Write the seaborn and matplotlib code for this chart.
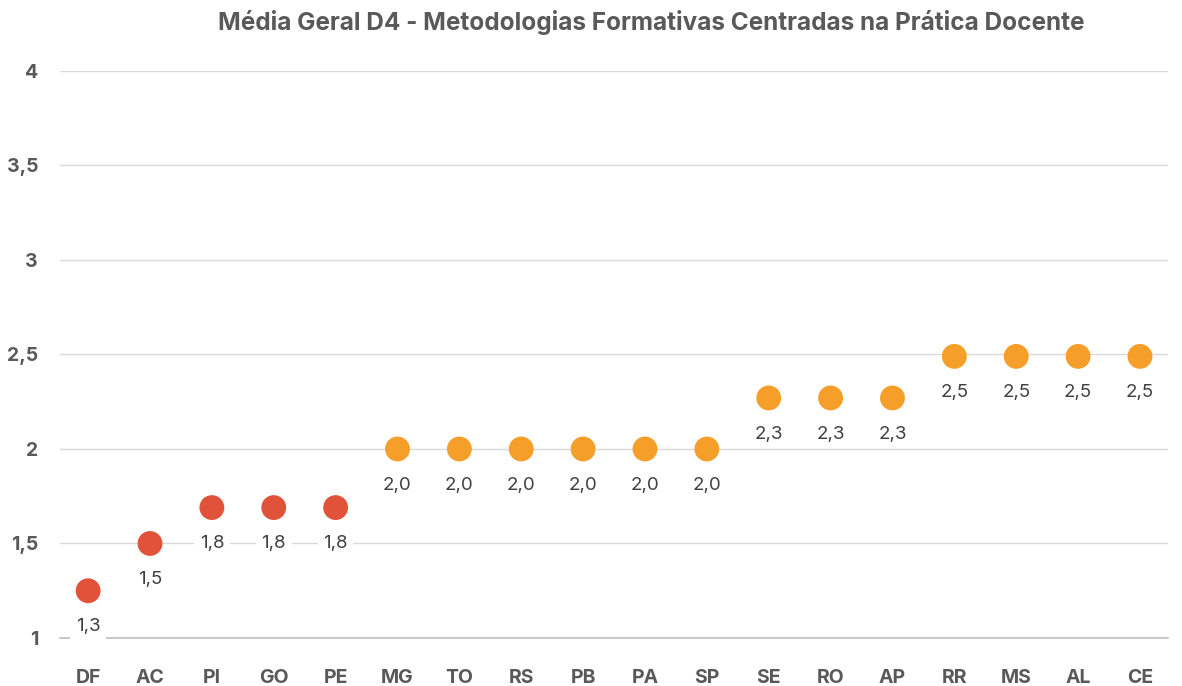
import pandas as pd
import numpy as np
import matplotlib.pyplot as plt
import seaborn as sns

# Data
states = ["DF", "AC", "PI", "GO", "PE", "MG", "TO", "RS", "PB", "PA",
          "SP", "SE", "RO", "AP", "RR", "MS", "AL", "CE"]
media = [1.25, 1.5, 1.69, 1.69, 1.69, 2.0, 2.0, 2.0, 2.0, 2.0,
         2.0, 2.27, 2.27, 2.27, 2.49, 2.49, 2.49, 2.49]
rotulos = ["1,3", "1,5", "1,8", "1,8", "1,8", "2,0", "2,0", "2,0", "2,0", "2,0",
           "2,0", "2,3", "2,3", "2,3", "2,5", "2,5", "2,5", "2,5"]
faixa = ["baixa"] * 5 + ["media"] * 13
yticks = [1, 1.5, 2, 2.5, 3, 3.5, 4]
ytick_labels = ["1", "1,5", "2", "2,5", "3", "3,5", "4"]

df = pd.DataFrame({"UF": states, "Media": media, "Faixa": faixa})

sns.set_style("white")
plt.rcParams["font.family"] = ["Inter", "DejaVu Sans"]

fig = plt.figure(figsize=(11.82, 6.86), dpi=100)
ax = fig.add_axes([0.051, 0.070, 0.937, 0.8265])

sns.scatterplot(
    data=df, x="UF", y="Media", hue="Faixa",
    palette={"baixa": "#E0533A", "media": "#F59F2A"},
    s=320, linewidth=0, legend=False, zorder=3, ax=ax
)

# data labels
for i, (v, t) in enumerate(zip(media, rotulos)):
    ax.annotate(t, (i, v), xytext=(0, -26), textcoords="offset points",
                ha="center", va="center", fontsize=13.5, color="#404040",
                bbox=dict(boxstyle="square,pad=0.3", fc="white", ec="none"),
                zorder=4)

ax.set_ylim(1, 4)
ax.set_xlim(-0.45, 17.45)
ax.set_yticks(yticks)
ax.set_yticklabels(ytick_labels)
ax.yaxis.grid(True, color="#D9D9D9", linewidth=1, zorder=0)
ax.set_axisbelow(True)
for s in ["top", "right", "left"]:
    ax.spines[s].set_visible(False)
ax.spines["bottom"].set_color("#BFBFBF")
ax.spines["bottom"].set_linewidth(1.2)
ax.tick_params(axis="both", length=0, labelsize=14, labelcolor="#595959")
ax.tick_params(axis="x", pad=22)
ax.tick_params(axis="y", pad=16)
for lbl in ax.get_xticklabels() + ax.get_yticklabels():
    lbl.set_fontweight("bold")
ax.set_xlabel("")
ax.set_ylabel("")

fig.text(0.551, 0.967, "Média Geral D4 - Metodologias Formativas Centradas na Prática Docente",
         ha="center", va="center", fontsize=17.5, fontweight="bold", color="#595959")

fig.savefig("out.png", dpi=100)
